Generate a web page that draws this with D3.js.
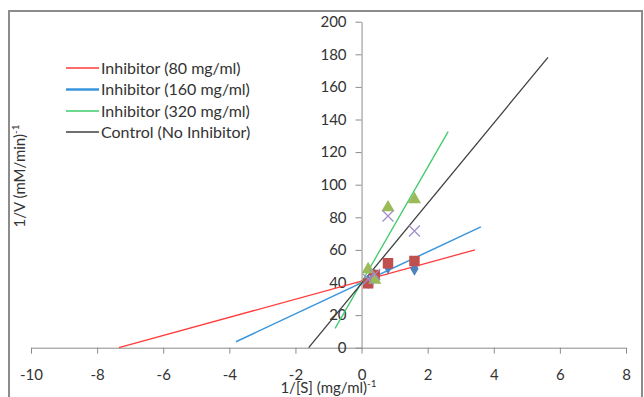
<!DOCTYPE html>
<html><head><meta charset="utf-8">
<script src="https://cdn.jsdelivr.net/npm/d3@7"></script>
<style>
html,body{margin:0;padding:0;background:#fff;}
svg text{font-family:Lato,"Open Sans",sans-serif;fill:#333;}
</style></head><body>
<svg id="c" width="644" height="397"></svg>
<script>
// Data
const xTicks = [-10,-8,-6,-4,-2,0,2,4,6,8];
const yTicks = [0,20,40,60,80,100,120,140,160,180,200];
const xVals = [0.2,0.4,0.8,1.6];
const diamondY = [40.5,44,49.5,48.5];
const squareY = [39.5,44.6,51.8,53.2];
const triangleY = [48,41.5,86,91];
const crossY = [42,45,80.8,71.6];
const lineNames = ["Inhibitor (80 mg/ml)","Inhibitor (160 mg/ml)","Inhibitor (320 mg/ml)","Control (No Inhibitor)"];
const lineSlopes = [5.57,9.51,35.3,24.6];
const lineIntercepts = [40.9,39.8,40.1,39.4];
const lineXStart = [-7.34,-3.8,-0.8,-1.6];
const lineXEnd = [3.43,3.61,2.62,5.64];
const lineColors = ["#ff3b3b","#3a96dc","#3ecb6a","#404040"];

const svg = d3.select("#c");
svg.append("rect").attr("x",9).attr("y",11).attr("width",633).attr("height",400)
  .attr("fill","none").attr("stroke","#8c8c8c").attr("stroke-width",2);

const x = d3.scaleLinear().domain([-10,8]).range([31,626]);
const y = d3.scaleLinear().domain([0,200]).range([347.7,21.7]);

// x axis
const xa = svg.append("g").attr("transform",`translate(0,${y(0)})`)
  .call(d3.axisBottom(x).tickValues(xTicks).tickFormat(d=>String(d)).tickSize(6).tickSizeOuter(0).tickPadding(16));
xa.select(".domain").attr("stroke","#8c8c8c");
xa.selectAll(".tick line").attr("stroke","#8c8c8c");
xa.selectAll("text").attr("font-size",15).attr("fill","#333");

// y axis
const ya = svg.append("g").attr("transform",`translate(${x(0)},0)`)
  .call(d3.axisLeft(y).tickValues(yTicks).tickFormat(d=>String(d)).tickSize(6).tickSizeOuter(0).tickPadding(9));
ya.select(".domain").attr("stroke","#8c8c8c");
ya.selectAll(".tick line").attr("stroke","#8c8c8c");
ya.selectAll("text").attr("font-size",15).attr("fill","#333");

// trend lines
lineNames.forEach((n,i)=>{
  const pts=[lineXStart[i],lineXEnd[i]].map(v=>[x(v),y(lineSlopes[i]*v+lineIntercepts[i])]);
  svg.append("path").attr("d",d3.line()(pts)).attr("stroke",lineColors[i])
    .attr("stroke-width",i===1?1.5:1.3).attr("fill","none");
});

// markers
const sym = (type,size,color,ys)=>{
  svg.append("g").selectAll("path").data(xVals).join("path")
    .attr("transform",(d,i)=>`translate(${x(d)},${y(ys[i])})`)
    .attr("d",d3.symbol().type(type).size(size)).attr("fill",color);
};
sym(d3.symbolDiamond,60,"#4f81bd",diamondY);
sym(d3.symbolSquare,110,"#c0504d",squareY);
sym(d3.symbolTriangle,75,"#9bbb59",triangleY);
svg.append("g").selectAll("path").data(xVals).join("path")
  .attr("transform",(d,i)=>`translate(${x(d)},${y(crossY[i])})`)
  .attr("d",d3.symbol().type(d3.symbolX).size(80)).attr("fill","none")
  .attr("stroke","#a08cc8").attr("stroke-width",1.2);

// legend
const legY=[68,89.5,111,132];
lineNames.forEach((n,i)=>{
  svg.append("line").attr("x1",66).attr("x2",99).attr("y1",legY[i]).attr("y2",legY[i])
    .attr("stroke",lineColors[i]).attr("stroke-width",i===1?2.5:1.3);
  svg.append("text").attr("x",101).attr("y",legY[i]).attr("dy","0.35em")
    .attr("font-size",16).text(n);
});

// axis titles
const xt = svg.append("text").attr("x",328.5).attr("y",393).attr("text-anchor","middle").attr("font-size",15);
xt.append("tspan").text("1/[S] (mg/ml)");
xt.append("tspan").attr("font-size",10).attr("dy",-6).text("-1");
const yt = svg.append("text").attr("transform","translate(25,176) rotate(-90)").attr("text-anchor","middle").attr("font-size",15);
yt.append("tspan").text("1/V (mM/min)");
yt.append("tspan").attr("font-size",10).attr("dy",-6).text("-1");
</script>
</body></html>
